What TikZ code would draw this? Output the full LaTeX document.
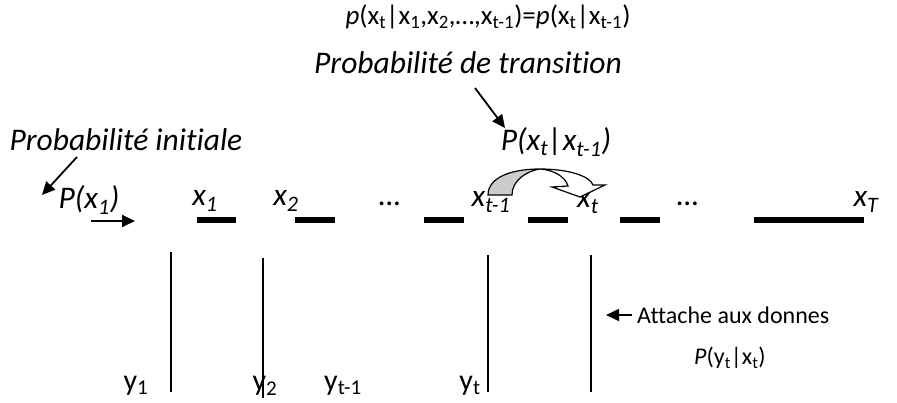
\documentclass[tikz,border=0pt]{standalone}
\usepackage{fontspec}
\setmainfont{Carlito}[Ligatures=CommonOff]
\usetikzlibrary{arrows.meta,positioning,calc}

\begin{document}
\begin{tikzpicture}[x=1pt,y=-1pt,
  >={Triangle[length=13pt,width=12pt]},
  every node/.style={inner sep=0pt},
  label big/.style={font=\fontsize{31.5}{35}\selectfont\itshape},
  label small/.style={font=\fontsize{24}{28}\selectfont},
  obs label/.style={font=\fontsize{30}{34}\selectfont,anchor=base},
  pointer/.style={->,line width=1.8pt},
  chain bar/.style={line width=6pt},
  obs line/.style={line width=1.5pt}]
  \useasboundingbox (0,0) rectangle (897,403);

  % Markov property
  \node[label small,font=\fontsize{27}{30}\selectfont] (markov) at (488,17)
    {\textit{p}(x\textsubscript{t}|x\textsubscript{1},x\textsubscript{2},\ldots,x\textsubscript{t-1})=\textit{p}(x\textsubscript{t}|x\textsubscript{t-1})};

  % probability labels
  \node[label big] (trans) at (468,63) {Probabilité de transition};
  \node[label big] (ptrans) at (556,142) {P(x\textsubscript{t}|x\textsubscript{t-1})};
  \node[label big] (init) at (126,140) {Probabilité initiale};
  \node[label big] (pinit) at (89,200) {P(x\textsubscript{1})};

  % hidden states
  \node[label big] (x1) at (205,201) {x\textsubscript{1}};
  \node[label big] (x2) at (286,201) {x\textsubscript{2}};
  \node[label big] (dots1) at (390,204) {\ldots};
  \node[label big] (xtm) at (491,202) {x\textsubscript{t-1}};
  \node[label big] (xt) at (588,203) {x\textsubscript{t}};
  \node[label big] (dots2) at (688,204) {\ldots};
  \node[label big] (xT) at (866,202) {x\textsubscript{T}};

  \foreach \a/\b in {197/236,295/335,424/464,528/568,620/660,754/864}
    \draw[chain bar] (\a,220) -- (\b,220);

  % observations
  \foreach \x/\t/\b in {171/252/392,263/258/398,488/255/392,591/255/392}
    \draw[obs line] (\x,\t) -- (\x,\b);
  \node[obs label] (y1) at (136,390) {y\textsubscript{1}};
  \node[obs label] (y2) at (265,390) {y\textsubscript{2}};
  \node[obs label] (ytm) at (343,390) {y\textsubscript{t-1}};
  \node[obs label] (yt) at (470,390) {y\textsubscript{t}};
  \node[label small,anchor=west] (attache) at (637,315) {Attache aux donnes};
  \node[label small] (pobs) at (730,358) {\textit{P}(y\textsubscript{t}|x\textsubscript{t})};

  % transition arrow between x_{t-1} and x_t
  \draw[line width=1.2pt,fill=black!20] (488,195) .. controls (488,178) and (510,169) .. (540,169)
    .. controls (527,171) and (512,180) .. (512,195) -- cycle;
  \draw[line width=1.2pt,fill=white,line join=miter] (540,169) .. controls (568,169) and (590,176) .. (593,185)
    -- (605,185) -- (580,197) -- (552,187) -- (568,186)
    .. controls (565,176) and (553,170) .. (540,169) -- cycle;

  % pointers
  \coordinate (initfrom) at (77,157);
  \coordinate (initto) at (42,195);
  \draw[pointer] (initfrom) -- (initto);
  \coordinate (startfrom) at (91,221);
  \coordinate (startto) at (135,221);
  \draw[pointer] (startfrom) -- (startto);
  \coordinate (transfrom) at (475,88);
  \coordinate (transto) at (505,128);
  \draw[pointer] (transfrom) -- (transto);
  \draw[pointer,line width=1.5pt] ([xshift=-5pt]attache.west) -- ([xshift=-31pt]attache.west);
\end{tikzpicture}
\end{document}
